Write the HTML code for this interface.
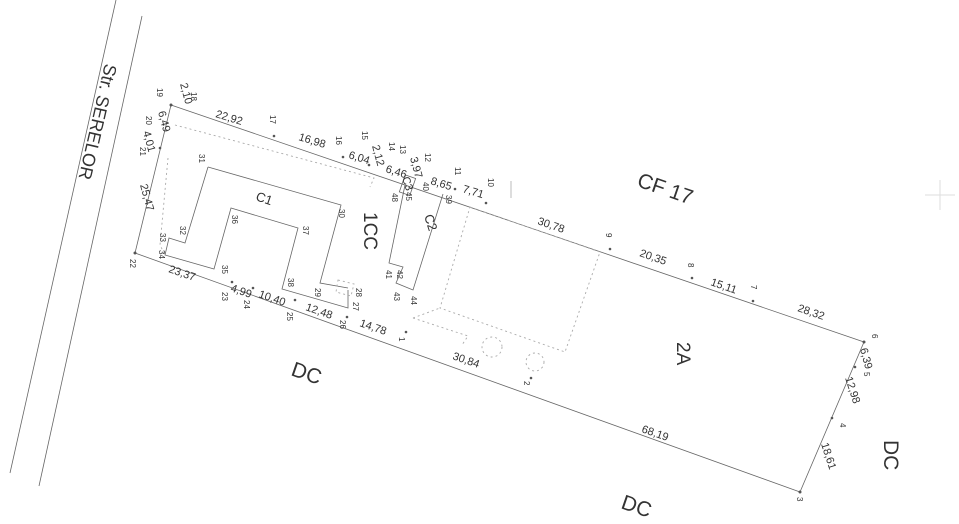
<!DOCTYPE html>
<html><head><meta charset="utf-8"><style>
html,body{margin:0;padding:0;background:#fff;}
svg{display:block;}
text{font-family:"Liberation Sans",sans-serif;fill:#333;}
.n{font-size:8px;fill:#444;}
.d{font-size:11px;fill:#333;}
</style></head><body>
<svg width="959" height="524" viewBox="0 0 959 524" xmlns="http://www.w3.org/2000/svg">
<g stroke="#666" stroke-width="0.8" fill="none">
<line x1="116" y1="0" x2="10" y2="473"/>
<line x1="142" y1="16" x2="39" y2="486"/>
<polygon points="171,105 864,342 800,492 135,253"/>
<polyline points="208,167 341,205 320,283 348,288"/>
<polyline points="348,290 348,308 282,289 298,228 231,208 214,269 165,255 169,238 185,243 208,167"/>
<rect x="402" y="176" width="11" height="18" transform="rotate(19 407 185)"/>
<polyline points="405,185 389,263 403,267 396,283 413,290 443,194"/>
<line x1="511" y1="181" x2="511" y2="198" stroke="#aaa"/>
</g>
<g stroke="#aaa" stroke-width="0.9" fill="none" stroke-dasharray="2,3">
<polyline points="175,125 374,178 370,187"/>
<polyline points="168,158 160,245 165,255"/>
<polygon points="470,207 600,252 565,352 440,308"/>
<polyline points="413,318 440,308"/>
<polyline points="413,318 468,336 462,345"/>
<polygon points="338,280 354,284 351,296 336,292"/>
<circle cx="492" cy="347" r="10"/>
<circle cx="535" cy="362" r="9"/>
</g>
<line x1="925" y1="195" x2="955" y2="195" stroke="#ddd"/>
<line x1="940" y1="180" x2="940" y2="210" stroke="#ddd"/>
<g fill="#555">
<circle cx="171" cy="105" r="1.5"/><circle cx="274" cy="136" r="1.3"/><circle cx="343" cy="157" r="1.3"/>
<circle cx="369" cy="165" r="1.3"/><circle cx="455" cy="189" r="1.3"/><circle cx="486" cy="203" r="1.3"/>
<circle cx="610" cy="249" r="1.3"/><circle cx="692" cy="278" r="1.3"/><circle cx="753" cy="301" r="1.3"/>
<circle cx="864" cy="342" r="1.5"/><circle cx="855" cy="367" r="1.3"/><circle cx="832" cy="418" r="1.3"/>
<circle cx="800" cy="492" r="1.5"/><circle cx="531" cy="378" r="1.3"/><circle cx="406" cy="332" r="1.3"/>
<circle cx="347" cy="317" r="1.3"/><circle cx="295" cy="300" r="1.3"/><circle cx="253" cy="288" r="1.3"/>
<circle cx="232" cy="282" r="1.3"/><circle cx="135" cy="253" r="1.5"/><circle cx="160" cy="148" r="1.3"/>
</g>
<text x="0" y="0" font-size="18" transform="translate(105,63) rotate(103)">Str. SERELOR</text>
<text x="0" y="0" font-size="21" transform="translate(636,186) rotate(19)">CF 17</text>
<text x="0" y="0" font-size="19" transform="translate(364,212) rotate(90)">1CC</text>
<text x="0" y="0" font-size="19" transform="translate(677,342) rotate(90)">2A</text>
<text x="0" y="0" font-size="13" transform="translate(255,200) rotate(19)">C1</text>
<text x="0" y="0" font-size="13" transform="translate(424,216) rotate(72)">C2</text>
<text x="0" y="0" font-size="11" transform="translate(402,178) rotate(72)">C3</text>
<text x="0" y="0" font-size="21" transform="translate(290,375) rotate(19)">DC</text>
<text x="0" y="0" font-size="21" transform="translate(620,508) rotate(19)">DC</text>
<text x="0" y="0" font-size="21" transform="translate(884,440) rotate(90)">DC</text>
<g class="d">
<text transform="translate(215,117) rotate(17)">22,92</text>
<text transform="translate(298,140) rotate(17)">16,98</text>
<text transform="translate(348,158) rotate(17)">6,04</text>
<text transform="translate(385,172) rotate(17)">6,46</text>
<text transform="translate(430,184) rotate(17)">8,65</text>
<text transform="translate(462,192) rotate(17)">7,71</text>
<text transform="translate(537,224) rotate(19)">30,78</text>
<text transform="translate(639,256) rotate(19)">20,35</text>
<text transform="translate(710,285) rotate(19)">15,11</text>
<text transform="translate(797,311) rotate(19)">28,32</text>
<text transform="translate(641,432) rotate(19)">68,19</text>
<text transform="translate(452,359) rotate(19)">30,84</text>
<text transform="translate(359,326) rotate(19)">14,78</text>
<text transform="translate(305,310) rotate(19)">12,48</text>
<text transform="translate(258,297) rotate(19)">10,40</text>
<text transform="translate(230,291) rotate(19)">4,99</text>
<text transform="translate(168,272) rotate(19)">23,37</text>
<text transform="translate(140,185) rotate(75)">25,47</text>
<text transform="translate(143,132) rotate(75)">4,01</text>
<text transform="translate(158,112) rotate(75)">6,49</text>
<text transform="translate(180,84) rotate(75)">2,10</text>
<text transform="translate(372,146) rotate(75)">2,12</text>
<text transform="translate(410,158) rotate(75)">3,97</text>
<text transform="translate(860,349) rotate(75)">6,39</text>
<text transform="translate(845,378) rotate(72)">12,98</text>
<text transform="translate(821,444) rotate(72)">18,61</text>
</g>
<g class="n">
<text transform="translate(157,88) rotate(90)">19</text>
<text transform="translate(191,92) rotate(90)">18</text>
<text transform="translate(146,116) rotate(90)">20</text>
<text transform="translate(140,147) rotate(90)">21</text>
<text transform="translate(130,259) rotate(90)">22</text>
<text transform="translate(270,115) rotate(90)">17</text>
<text transform="translate(336,136) rotate(90)">16</text>
<text transform="translate(362,131) rotate(90)">15</text>
<text transform="translate(389,142) rotate(90)">14</text>
<text transform="translate(400,145) rotate(90)">13</text>
<text transform="translate(425,153) rotate(90)">12</text>
<text transform="translate(455,167) rotate(90)">11</text>
<text transform="translate(488,178) rotate(90)">10</text>
<text transform="translate(606,233) rotate(90)">9</text>
<text transform="translate(688,263) rotate(90)">8</text>
<text transform="translate(751,285) rotate(90)">7</text>
<text transform="translate(872,334) rotate(90)">6</text>
<text transform="translate(864,372) rotate(90)">5</text>
<text transform="translate(840,423) rotate(90)">4</text>
<text transform="translate(797,497) rotate(90)">3</text>
<text transform="translate(524,381) rotate(90)">2</text>
<text transform="translate(399,337) rotate(90)">1</text>
<text transform="translate(222,292) rotate(90)">23</text>
<text transform="translate(244,300) rotate(90)">24</text>
<text transform="translate(287,312) rotate(90)">25</text>
<text transform="translate(340,320) rotate(90)">26</text>
<text transform="translate(353,302) rotate(90)">27</text>
<text transform="translate(356,288) rotate(90)">28</text>
<text transform="translate(315,288) rotate(90)">29</text>
<text transform="translate(339,209) rotate(90)">30</text>
<text transform="translate(199,154) rotate(90)">31</text>
<text transform="translate(180,226) rotate(90)">32</text>
<text transform="translate(160,233) rotate(90)">33</text>
<text transform="translate(159,250) rotate(90)">34</text>
<text transform="translate(222,265) rotate(90)">35</text>
<text transform="translate(232,215) rotate(90)">36</text>
<text transform="translate(303,226) rotate(90)">37</text>
<text transform="translate(288,278) rotate(90)">38</text>
<text transform="translate(446,195) rotate(90)">39</text>
<text transform="translate(423,182) rotate(90)">40</text>
<text transform="translate(386,270) rotate(90)">41</text>
<text transform="translate(397,270) rotate(90)">42</text>
<text transform="translate(394,292) rotate(90)">43</text>
<text transform="translate(411,296) rotate(90)">44</text>
<text transform="translate(406,192) rotate(90)">45</text>
<text transform="translate(392,193) rotate(90)">48</text>
</g>
</svg>
</body></html>
